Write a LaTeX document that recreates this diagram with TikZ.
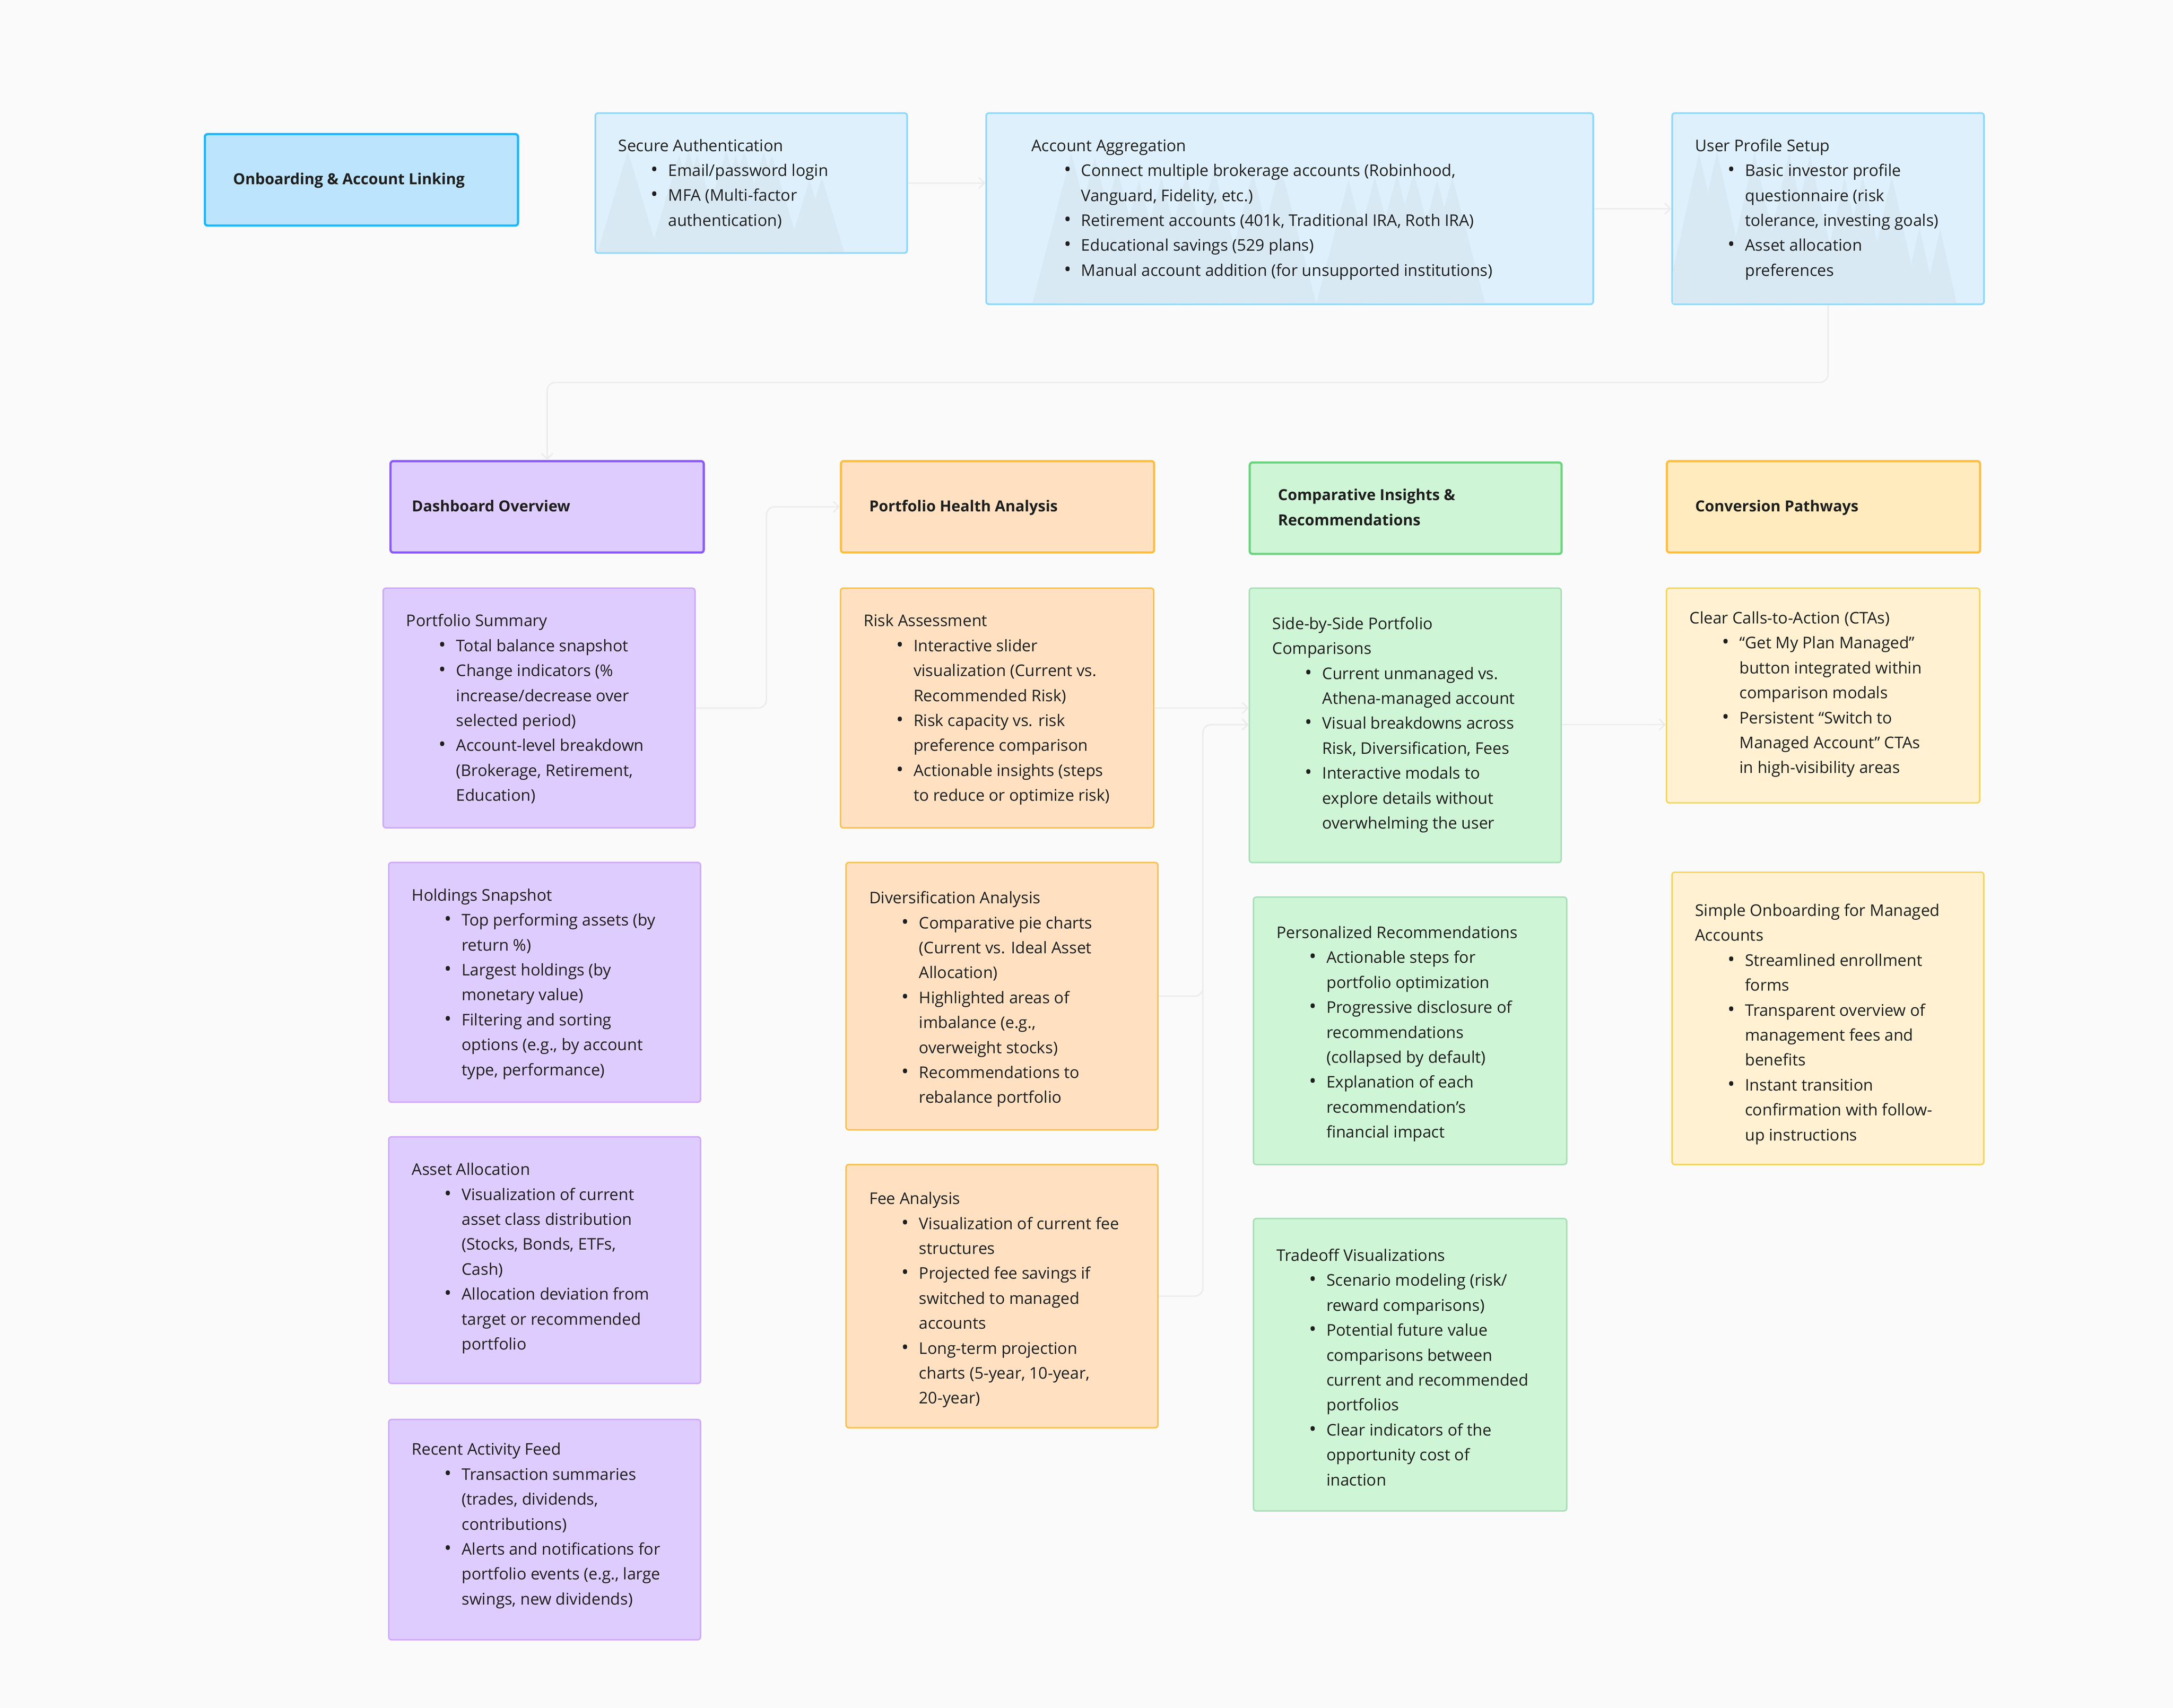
\documentclass[tikz,border=0pt]{standalone}
\usepackage{fontspec}
\setmainfont{Open Sans}
\usetikzlibrary{arrows.meta}
\definecolor{bgc}{HTML}{FAFAFA}
\definecolor{txtc}{HTML}{1E1E1E}
\definecolor{onbF}{HTML}{BCE4FD}
\definecolor{onbD}{HTML}{1CB8FB}
\definecolor{bluF}{HTML}{DEF0FC}
\definecolor{bluD}{HTML}{8ED8FC}
\definecolor{mtnc}{HTML}{D8E9F4}
\definecolor{purF}{HTML}{DECCFE}
\definecolor{purHD}{HTML}{8A5CF6}
\definecolor{purD}{HTML}{D0A7FB}
\definecolor{orF}{HTML}{FFE1C2}
\definecolor{orD}{HTML}{FBBF47}
\definecolor{grF}{HTML}{CEF5D5}
\definecolor{grHD}{HTML}{6CD480}
\definecolor{grD}{HTML}{A8DDB7}
\definecolor{yeHF}{HTML}{FFEBBD}
\definecolor{yeF}{HTML}{FFF1D1}
\definecolor{yeD}{HTML}{F4D35A}
\definecolor{conc}{HTML}{ECECEC}
\newcommand{\bxi}{\makebox[36pt][l]{\hspace{23.5pt}{\fontsize{14}{18}\selectfont\textbullet}}}
\newcommand{\bxc}{\hspace*{36pt}}
\tikzset{
  box/.style={rectangle, rounded corners=2pt, inner sep=0pt, anchor=north west, line width=1pt},
  onbbox/.style={box, fill=onbF, draw=onbD, line width=1.6pt},
  blubox/.style={box, fill=bluF, draw=bluD, line width=1.2pt},
  purhead/.style={box, fill=purF, draw=purHD, line width=1.6pt},
  purbox/.style={box, fill=purF, draw=purD},
  orhead/.style={box, fill=orF, draw=orD, line width=1.6pt},
  orbox/.style={box, fill=orF, draw=orD},
  grhead/.style={box, fill=grF, draw=grHD, line width=1.6pt},
  grbox/.style={box, fill=grF, draw=grD},
  yehead/.style={box, fill=yeHF, draw=orD, line width=1.6pt},
  yebox/.style={box, fill=yeF, draw=yeD},
  txt/.style={anchor=north west, inner sep=0pt, align=left, text=txtc, font=\fontsize{11.6}{18}\selectfont},
  btxt/.style={txt, font=\fontsize{11}{18}\selectfont\bfseries},
  mtn/.style={fill=mtnc},
  conn/.style={draw=conc, line width=1pt, rounded corners=6pt, -{Straight Barb[length=4pt,width=8pt]}}
}
\begin{document}
\begin{tikzpicture}[x=1pt,y=-1pt]
\fill[bgc] (0,0) rectangle (1568,1232.7);
\useasboundingbox (0,0) rectangle (1568,1232.7);

% ---------- top row ----------
\node[onbbox, minimum width=226pt, minimum height=66pt] (onb) at (147,96) {};
\node[blubox, minimum width=225pt, minimum height=101pt] (sec) at (429,81) {};
\node[blubox, minimum width=438pt, minimum height=138pt] (agg) at (711,81) {};
\node[blubox, minimum width=225pt, minimum height=138pt] (usr) at (1206,81) {};

\begin{scope}
\clip ([shift={(1,1)}]sec.north west) rectangle ([shift={(-1,-1)}]sec.south east);
\foreach \px/\py in {453/109,490/112,497/109,503/112,524/109,531/112,537/109,551/110,557/112,584/130,593/128}
  \fill[mtn] ({\px-0.3*(182-\py)},182) -- (\px,\py) -- ({\px+0.3*(182-\py)},182) -- cycle;
\end{scope}
\begin{scope}
\clip ([shift={(1,1)}]agg.north west) rectangle ([shift={(-1,-1)}]agg.south east);
\foreach \px/\py in {773/111,790/114,806/122,822/130,838/128,856/126,876/122,904/125,924/120,973/130,992/128,1008/126,1020/124,1037/130,1048/128}
  \fill[mtn] ({\px-0.26*(219-\py)},219) -- (\px,\py) -- ({\px+0.26*(219-\py)},219) -- cycle;
\end{scope}
\begin{scope}
\clip ([shift={(1,1)}]usr.north west) rectangle ([shift={(-1,-1)}]usr.south east);
\foreach \px/\py in {1226/110,1239/109,1266/110,1291/110,1306/112,1331/128,1344/127,1365/127,1385/164,1400/165}
  \fill[mtn] ({\px-0.22*(219-\py)},219) -- (\px,\py) -- ({\px+0.22*(219-\py)},219) -- cycle;
\end{scope}

\node[btxt] (onb-t) at (168,120.4) {\strut Onboarding \& Account Linking};
\node[txt] (sec-t) at (446,96.4) {\strut Secure Authentication\\
\bxi Email/password login\\
\bxi MFA (Multi-factor\\
\bxc authentication)};
\node[txt] (agg-t) at (744,96.4) {\strut Account Aggregation\\
\bxi Connect multiple brokerage accounts (Robinhood,\\
\bxc Vanguard, Fidelity, etc.)\\
\bxi Retirement accounts (401k, Traditional IRA, Roth IRA)\\
\bxi Educational savings (529 plans)\\
\bxi Manual account addition (for unsupported institutions)};
\node[txt] (usr-t) at (1223,96.4) {\strut User Profile Setup\\
\bxi Basic investor profile\\
\bxc questionnaire (risk\\
\bxc tolerance, investing goals)\\
\bxi Asset allocation\\
\bxc preferences};

% ---------- headers ----------
\node[purhead, minimum width=226pt, minimum height=66pt] (dash) at (281,332) {};
\node[orhead, minimum width=226pt, minimum height=66pt] (pha) at (606,332) {};
\node[grhead, minimum width=225pt, minimum height=66pt] (cmp) at (901,333) {};
\node[yehead, minimum width=226pt, minimum height=66pt] (cnv) at (1202,332) {};
\node[btxt] (dash-t) at (297,356.4) {\strut Dashboard Overview};
\node[btxt] (pha-t) at (627,356.4) {\strut Portfolio Health Analysis};
\node[btxt] (cmp-t) at (922,348.4) {\strut Comparative Insights \&\\Recommendations};
\node[btxt] (cnv-t) at (1223,356.4) {\strut Conversion Pathways};

% ---------- column 1 ----------
\node[purbox, minimum width=225pt, minimum height=173pt] (ps) at (276,424) {};
\node[purbox, minimum width=225pt, minimum height=173pt] (hold) at (280,622) {};
\node[purbox, minimum width=225pt, minimum height=178pt] (alloc) at (280,820) {};
\node[purbox, minimum width=225pt, minimum height=159pt] (feed) at (280,1024) {};
\node[txt] (ps-t) at (293,439.4) {\strut Portfolio Summary\\
\bxi Total balance snapshot\\
\bxi Change indicators (\%\\
\bxc increase/decrease over\\
\bxc selected period)\\
\bxi Account-level breakdown\\
\bxc (Brokerage, Retirement,\\
\bxc Education)};
\node[txt] (hold-t) at (297,637.4) {\strut Holdings Snapshot\\
\bxi Top performing assets (by\\
\bxc return \%)\\
\bxi Largest holdings (by\\
\bxc monetary value)\\
\bxi Filtering and sorting\\
\bxc options (e.g., by account\\
\bxc type, performance)};
\node[txt] (alloc-t) at (297,835.4) {\strut Asset Allocation\\
\bxi Visualization of current\\
\bxc asset class distribution\\
\bxc (Stocks, Bonds, ETFs,\\
\bxc Cash)\\
\bxi Allocation deviation from\\
\bxc target or recommended\\
\bxc portfolio};
\node[txt] (feed-t) at (297,1037.4) {\strut Recent Activity Feed\\
\bxi Transaction summaries\\
\bxc (trades, dividends,\\
\bxc contributions)\\
\bxi Alerts and notifications for\\
\bxc portfolio events (e.g., large\\
\bxc swings, new dividends)};

% ---------- column 2 ----------
\node[orbox, minimum width=226pt, minimum height=173pt] (risk) at (606,424) {};
\node[orbox, minimum width=225pt, minimum height=193pt] (div) at (610,622) {};
\node[orbox, minimum width=225pt, minimum height=190pt] (fee) at (610,840) {};
\node[txt] (risk-t) at (623,439.4) {\strut Risk Assessment\\
\bxi Interactive slider\\
\bxc visualization (Current vs.\\
\bxc Recommended Risk)\\
\bxi Risk capacity vs. risk\\
\bxc preference comparison\\
\bxi Actionable insights (steps\\
\bxc to reduce or optimize risk)};
\node[txt] (div-t) at (627,639.4) {\strut Diversification Analysis\\
\bxi Comparative pie charts\\
\bxc (Current vs. Ideal Asset\\
\bxc Allocation)\\
\bxi Highlighted areas of\\
\bxc imbalance (e.g.,\\
\bxc overweight stocks)\\
\bxi Recommendations to\\
\bxc rebalance portfolio};
\node[txt] (fee-t) at (627,856.4) {\strut Fee Analysis\\
\bxi Visualization of current fee\\
\bxc structures\\
\bxi Projected fee savings if\\
\bxc switched to managed\\
\bxc accounts\\
\bxi Long-term projection\\
\bxc charts (5-year, 10-year,\\
\bxc 20-year)};

% ---------- column 3 ----------
\node[grbox, minimum width=225pt, minimum height=198pt] (sbs) at (901,424) {};
\node[grbox, minimum width=226pt, minimum height=193pt] (pers) at (904,647) {};
\node[grbox, minimum width=226pt, minimum height=211pt] (trade) at (904,879) {};
\node[txt] (sbs-t) at (918,441.4) {\strut Side-by-Side Portfolio\\
Comparisons\\
\bxi Current unmanaged vs.\\
\bxc Athena-managed account\\
\bxi Visual breakdowns across\\
\bxc Risk, Diversification, Fees\\
\bxi Interactive modals to\\
\bxc explore details without\\
\bxc overwhelming the user};
\node[txt] (pers-t) at (921,664.4) {\strut Personalized Recommendations\\
\bxi Actionable steps for\\
\bxc portfolio optimization\\
\bxi Progressive disclosure of\\
\bxc recommendations\\
\bxc (collapsed by default)\\
\bxi Explanation of each\\
\bxc recommendation’s\\
\bxc financial impact};
\node[txt] (trade-t) at (921,897.4) {\strut Tradeoff Visualizations\\
\bxi Scenario modeling (risk/\\
\bxc reward comparisons)\\
\bxi Potential future value\\
\bxc comparisons between\\
\bxc current and recommended\\
\bxc portfolios\\
\bxi Clear indicators of the\\
\bxc opportunity cost of\\
\bxc inaction};

% ---------- column 4 ----------
\node[yebox, minimum width=226pt, minimum height=155pt] (cta) at (1202,424) {};
\node[yebox, minimum width=225pt, minimum height=211pt] (sob) at (1206,629) {};
\node[txt] (cta-t) at (1219,437.4) {\strut Clear Calls-to-Action (CTAs)\\
\bxi “Get My Plan Managed”\\
\bxc button integrated within\\
\bxc comparison modals\\
\bxi Persistent “Switch to\\
\bxc Managed Account” CTAs\\
\bxc in high-visibility areas};
\node[txt] (sob-t) at (1223,648.4) {\strut Simple Onboarding for Managed\\
Accounts\\
\bxi Streamlined enrollment\\
\bxc forms\\
\bxi Transparent overview of\\
\bxc management fees and\\
\bxc benefits\\
\bxi Instant transition\\
\bxc confirmation with follow-\\
\bxc up instructions};

% ---------- connectors ----------
\coordinate (jA) at (0,276);
\coordinate (jB) at (553,0);
\coordinate (jC) at (868,0);
\coordinate (jD) at (0,523);
\draw[conn] (sec.east) -- (sec.east -| agg.west);
\draw[conn] (agg.east) -- (agg.east -| usr.west);
\draw[conn] (usr.south) -- (usr.south |- jA) -- (dash.north |- jA) -- (dash.north);
\draw[conn] (ps.east) -- (ps.east -| jB) -- (jB |- pha.west) -- (pha.west);
\draw[conn] (risk.east) -- (risk.east -| sbs.west);
\draw[conn] (div.east) -- (div.east -| jC) -- (jC |- jD) -- (sbs.west |- jD);
\draw[conn] (fee.east) -- (fee.east -| jC) -- (jC |- jD) -- (sbs.west |- jD);
\draw[conn] (sbs.east |- jD) -- (cta.west |- jD);
\end{tikzpicture}
\end{document}
